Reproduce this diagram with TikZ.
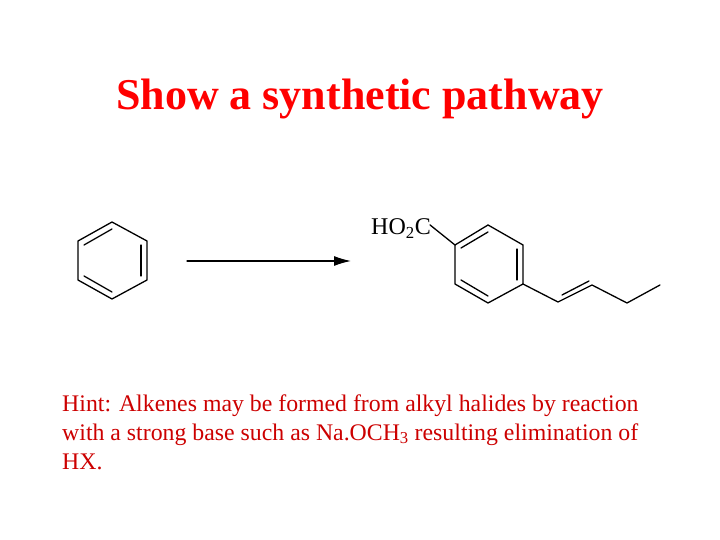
\documentclass[tikz,border=0pt]{standalone}
\usepackage{fontspec}
\setmainfont{Liberation Serif}
\usetikzlibrary{arrows.meta}
\begin{document}
\begin{tikzpicture}[x=1pt,y=-1pt,bond/.style={line width=1.3pt,line cap=round},
 hint/.style={text=red!80!black,anchor=base west,inner sep=0pt,font=\fontsize{23.8}{28}\selectfont}]
\useasboundingbox (0,0) rectangle (720,540);
\node[text=red,font=\bfseries\fontsize{44}{50}\selectfont,anchor=base] (title) at (360,110) {Show a synthetic pathway};
% left benzene
\coordinate (a1) at (112,222); \coordinate (a2) at (147,241); \coordinate (a3) at (147,280);
\coordinate (a4) at (112,299); \coordinate (a5) at (78,280); \coordinate (a6) at (78,241);
\draw[bond] (a1)--(a2)--(a3)--(a4)--(a5)--(a6)--cycle;
\draw[bond] (112,229)--(84,245); \draw[bond] (141,245)--(141,276); \draw[bond] (112,292)--(84,276);
% arrow
\coordinate (s) at (187,261); \coordinate (e) at (351,261);
\draw[bond,-{Latex[length=17pt,width=10pt]}] (s)--(e);
% product
\coordinate (b1) at (488,225); \coordinate (b2) at (523,245); \coordinate (b3) at (523,284);
\coordinate (b4) at (488,303); \coordinate (b5) at (455,284); \coordinate (b6) at (455,245);
\draw[bond] (b1)--(b2)--(b3)--(b4)--(b5)--(b6)--cycle;
\draw[bond] (488,232)--(461,248); \draw[bond] (517,249)--(517,280); \draw[bond] (488,296)--(461,280);
\node[anchor=base east,inner sep=0pt,font=\fontsize{24}{28}\selectfont] (cooh) at (431,235) {HO\textsubscript{2}C};
\draw[bond] (cooh.east)++(-1,-4) -- (b6);
\coordinate (c1) at (558,302); \coordinate (c2) at (592,285); \coordinate (c3) at (627,303); \coordinate (c4) at (660,285);
\draw[bond] (b3)--(c1)--(c2)--(c3)--(c4);
\draw[bond] (562,295)--(589,281);
% hint
\node[hint] (h1) at (62,411) {Hint: Alkenes may be formed from alkyl halides by reaction};
\node[hint] (h2) at (62,440) {with a strong base such as Na.OCH\textsubscript{3} resulting elimination of};
\node[hint] (h3) at (62,469) {HX.};
\end{tikzpicture}
\end{document}
